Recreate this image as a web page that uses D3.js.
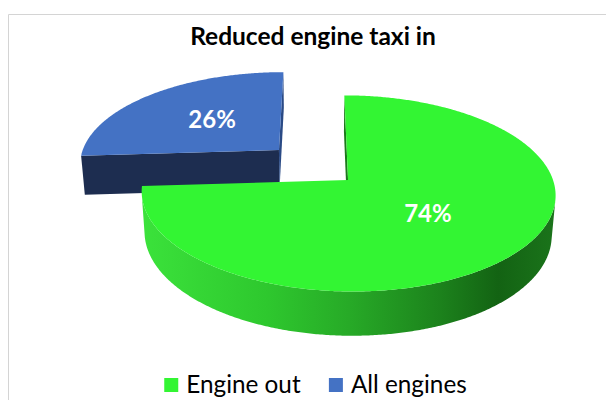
<!DOCTYPE html>
<html>
<head>
<meta charset="utf-8">
<script src="https://cdn.jsdelivr.net/npm/d3@7"></script>
<style>
  html, body { margin: 0; padding: 0; background: #ffffff; }
  svg { display: block; }
</style>
</head>
<body>
<svg id="chart" width="606" height="400"></svg>
<script>
// ---- data ----
const categories = ["Engine out", "All engines"];
const values = [74, 26];
const titleText = "Reduced engine taxi in";

// ---- styling per slice ----
const topColors = ["#33f533", "#4472c4"];
const cutColors = ["#1d8a1d", "#1d2d50"];
const sideCutColors = ["#1b7a1b", "#2a4a85"];
const explodedSlice = [false, true];

const svg = d3.select("#chart");
const defs = svg.append("defs");

// chart frame
svg.append("path")
  .attr("d", "M8.5,400 V14.5 H606")
  .attr("fill", "none")
  .attr("stroke", "#d4d4d4")
  .attr("stroke-width", 1);

// title
svg.append("text")
  .attr("x", 313)
  .attr("y", 45)
  .attr("text-anchor", "middle")
  .style("font-family", "Lato, 'Open Sans', sans-serif")
  .style("font-weight", "700")
  .style("font-size", "24.5px")
  .attr("fill", "#000")
  .text(titleText);

// ---- perspective camera for the 3D pie (unit radius) ----
const view = { cx: 317.3, cy: 180, focal: 1320, dist: 6.44, tilt: 28 * Math.PI / 180, camX: -0.15 };
const sinT = Math.sin(view.tilt), cosT = Math.cos(view.tilt);
const camera = [view.camX, view.dist * sinT, -view.dist * cosT];
const thickness = 0.225;
const explodeDist = 0.474;
const labelRadius = 0.5;

function project(p) {
  const [X, Y, Z] = p;
  const depth = view.dist - Y * sinT + Z * cosT;
  return [view.cx + view.focal * (X - view.camX) / depth,
          view.cy - view.focal * (Y * cosT + Z * sinT) / depth];
}
function facing(p, n) {
  return (camera[0] - p[0]) * n[0] + (camera[1] - p[1]) * n[1] + (camera[2] - p[2]) * n[2] > 0;
}
const line = d3.line().curve(d3.curveLinearClosed);

// green side wall shading
const wallGrad = defs.append("linearGradient")
  .attr("id", "wall0")
  .attr("gradientUnits", "userSpaceOnUse")
  .attr("x1", 142).attr("x2", 556).attr("y1", 0).attr("y2", 0);
[[0, "#3be23b"], [0.3, "#2ec82e"], [0.5, "#27aa27"], [0.72, "#1c821c"], [0.86, "#136313"], [1, "#1b741b"]]
  .forEach(([o, c]) => wallGrad.append("stop").attr("offset", o).attr("stop-color", c));

// slice angles: d3 pie angles run clockwise from 12 o'clock (the back of the pie)
const arcs = d3.pie().sort(null).value(d => d)(values);
const toWorld = t => Math.PI / 2 - t;

const slices = arcs.map((a, i) => {
  const aHi = toWorld(a.startAngle);
  const aLo = toWorld(a.endAngle);
  const aMid = (aHi + aLo) / 2;
  const off = explodedSlice[i] ? [explodeDist * Math.cos(aMid), 0, explodeDist * Math.sin(aMid)] : [0, 0, 0];
  return { i, aHi, aLo, aMid, off, value: a.value };
});

const rim = (s, a, y) => [s.off[0] + Math.cos(a), y, s.off[2] + Math.sin(a)];
const centre = (s, y) => [s.off[0], y, s.off[2]];

const pieG = svg.append("g");

function drawSlice(s) {
  const g = pieG.append("g");
  const steps = Math.ceil((s.aHi - s.aLo) / (Math.PI / 360));
  const angles = d3.range(steps + 1).map(k => s.aLo + (s.aHi - s.aLo) * k / steps);

  // outer wall: visible runs only
  let run = [];
  const runs = [];
  angles.forEach(a => {
    if (facing(rim(s, a, 0), [Math.cos(a), 0, Math.sin(a)])) run.push(a);
    else if (run.length) { runs.push(run); run = []; }
  });
  if (run.length) runs.push(run);
  runs.forEach(r => {
    const pts = r.map(a => project(rim(s, a, 0)))
      .concat(r.slice().reverse().map(a => project(rim(s, a, -thickness))));
    g.append("path").attr("d", line(pts))
      .attr("fill", s.i === 0 ? "url(#wall0)" : cutColors[s.i]);
  });

  // radial cut faces
  const faces = [
    { a: s.aHi, n: [-Math.sin(s.aHi), 0, Math.cos(s.aHi)], color: s.i === 0 ? sideCutColors[0] : cutColors[1] },
    { a: s.aLo, n: [Math.sin(s.aLo), 0, -Math.cos(s.aLo)], color: s.i === 0 ? cutColors[0] : sideCutColors[1] }
  ];
  faces.forEach(f => {
    if (!facing(centre(s, 0), f.n)) return;
    const pts = [centre(s, 0), rim(s, f.a, 0), rim(s, f.a, -thickness), centre(s, -thickness)].map(project);
    g.append("path").attr("d", line(pts)).attr("fill", f.color);
  });

  // top face
  const topPts = [project(centre(s, 0))].concat(angles.map(a => project(rim(s, a, 0))));
  g.append("path").attr("d", line(topPts)).attr("fill", topColors[s.i]);
}

// back slice first, then the front one
[1, 0].forEach(k => drawSlice(slices[k]));

// percentage labels on the top faces
const total = d3.sum(values);
slices.forEach(s => {
  const p = project([s.off[0] + labelRadius * Math.cos(s.aMid), 0, s.off[2] + labelRadius * Math.sin(s.aMid)]);
  svg.append("text")
    .attr("x", p[0]).attr("y", p[1]).attr("dy", "0.3em")
    .attr("text-anchor", "middle")
    .style("font-family", "Lato, 'Open Sans', sans-serif")
    .style("font-weight", "700")
    .style("font-size", "24px")
    .attr("fill", "#ffffff")
    .text(Math.round(s.value / total * 100) + "%");
});

// legend
const legend = svg.append("g")
  .style("font-family", "Lato, 'Open Sans', sans-serif")
  .style("font-size", "24.3px");
const items = legend.selectAll("g").data(categories).join("g");
items.append("rect").attr("x", 0).attr("y", -15).attr("width", 14).attr("height", 14)
  .attr("fill", (d, i) => topColors[i]);
items.append("text").attr("x", 22).attr("y", 0).attr("fill", "#000").text(d => d);
const widths = items.nodes().map(n => n.getBBox().width);
const gap = 28;
const totalW = d3.sum(widths) + gap * (widths.length - 1);
let xPos = 315.5 - totalW / 2;
const starts = widths.map(w => { const x0 = xPos; xPos += w + gap; return x0; });
items.attr("transform", (d, i) => `translate(${starts[i]},393)`);
</script>
</body>
</html>
